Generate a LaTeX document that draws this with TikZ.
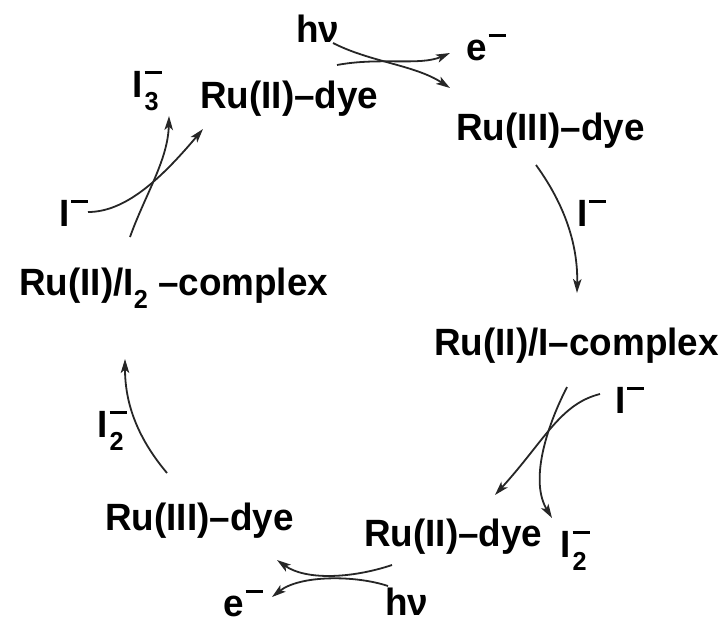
\documentclass[tikz,border=0pt]{standalone}
\usepackage{fontspec}
\setmainfont{Liberation Sans}[FakeStretch=0.97]
\usetikzlibrary{arrows.meta}
\newcommand\chmin{\hspace{0.05em}\rule[0.6em]{0.45em}{0.09em}}
\newcommand\chsub[1]{\raisebox{-0.36em}{\fontsize{26}{26}\selectfont #1}}
\newcommand\chsubmin[1]{\hspace{0.06em}\rlap{\rule[0.6em]{0.45em}{0.09em}}\chsub{#1}}
\begin{document}
\begin{tikzpicture}[x=1pt,y=-1pt,
  lbl/.style={anchor=base west, inner sep=0pt, font=\fontsize{38}{40}\selectfont\bfseries},
  rx/.style={line width=1.8pt, draw=black!85, -{Stealth[length=14pt,width=8.5pt,inset=3.5pt]}}]
\useasboundingbox (0,0) rectangle (727,625);
% labels
\node[lbl] (hv1) at (296,42) {hν};
\node[lbl] (e1) at (466,60) {e\chmin};
\node[lbl] (i3) at (132,97) {I\chsubmin{3}};
\node[lbl] (dye1) at (200,108) {Ru(II)–dye};
\node[lbl] (dye2) at (456,140) {Ru(III)–dye};
\node[lbl] (im1) at (59,226) {I\chmin};
\node[lbl] (im2) at (577,226) {I\chmin};
\node[lbl] (cx1) at (19,295) {Ru(II)/I\chsub{2} –complex};
\node[lbl] (cx2) at (434,355) {Ru(II)/I–complex};
\node[lbl] (im3) at (615,413) {I\chmin};
\node[lbl] (i2a) at (97,437) {I\chsubmin{2}};
\node[lbl] (dye3) at (105,530) {Ru(III)–dye};
\node[lbl] (dye4) at (364,546) {Ru(II)–dye};
\node[lbl] (i2b) at (560,557) {I\chsubmin{2}};
\node[lbl] (e2) at (223,616) {e\chmin};
\node[lbl] (hv2) at (385,615) {hν};
% connector ends
\coordinate (a1s) at (333,43);  \coordinate (a1e) at (450,88);
\coordinate (a2s) at (337,65);  \coordinate (a2e) at (450,53);
\coordinate (bs) at (536,165);  \coordinate (be) at (577,293);
\coordinate (c1s) at (600,394); \coordinate (c1e) at (495,495);
\coordinate (c2s) at (567,387); \coordinate (c2e) at (552,518);
\coordinate (d1s) at (392,565); \coordinate (d1e) at (277,560);
\coordinate (d2s) at (388,586); \coordinate (d2e) at (272,597);
\coordinate (es) at (167,473);  \coordinate (ee) at (125,359);
\coordinate (f1s) at (88,212);  \coordinate (f1e) at (203,129);
\coordinate (f2s) at (130,237); \coordinate (f2e) at (169,116);
% connectors
\draw[rx] (a1s) .. controls (370,62) and (415,65) .. (a1e);
\draw[rx] (a2s) .. controls (380,57) and (420,66) .. (a2e);
\draw[rx] (bs) .. controls (565,205) and (578,245) .. (be);
\draw[rx] (c1s) .. controls (560,404) and (545,440) .. (c1e);
\draw[rx] (c2s) .. controls (545,430) and (530,482) .. (c2e);
\draw[rx] (d1s) .. controls (350,579) and (305,580) .. (d1e);
\draw[rx] (d2s) .. controls (355,575) and (300,575) .. (d2e);
\draw[rx] (es) .. controls (135,435) and (125,400) .. (ee);
\draw[rx] (f1s) .. controls (125,212) and (160,180) .. (f1e);
\draw[rx] (f2s) .. controls (145,195) and (168,160) .. (f2e);
\end{tikzpicture}
\end{document}
